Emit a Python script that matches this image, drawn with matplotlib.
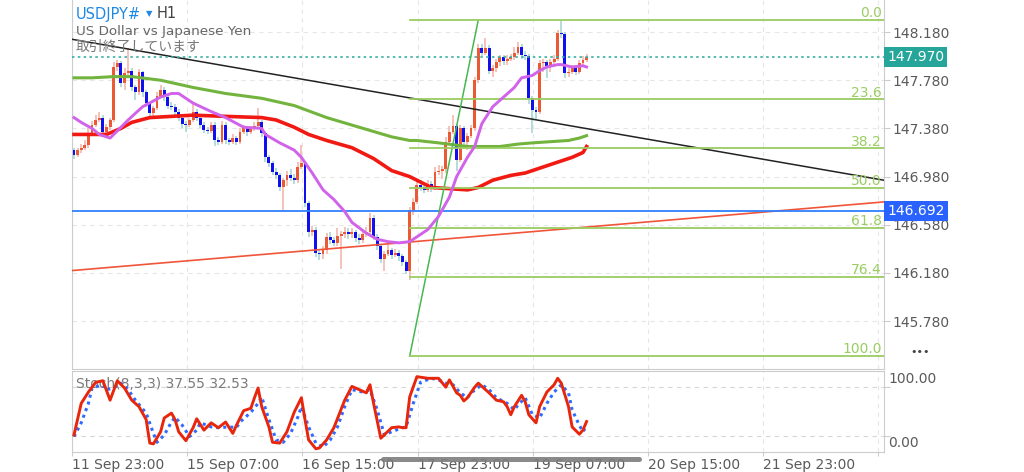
import numpy as np
import matplotlib.pyplot as plt
from matplotlib.lines import Line2D
from matplotlib.transforms import blended_transform_factory

plt.rcParams['font.family'] = ['DejaVu Sans', 'Noto Sans CJK JP']

# ---- hourly candles (USDJPY, H1) ----
first_open = 147.20
closes = [147.16, 147.20, 147.22, 147.24, 147.34, 147.41, 147.45, 147.47, 147.35, 147.39,
          147.45, 147.89, 147.92, 147.76, 147.84, 147.86, 147.72, 147.68, 147.85, 147.68,
          147.59, 147.51, 147.55, 147.65, 147.70, 147.64, 147.57, 147.56, 147.52, 147.47,
          147.42, 147.41, 147.45, 147.52, 147.47, 147.41, 147.37, 147.36, 147.41, 147.28,
          147.27, 147.41, 147.28, 147.27, 147.30, 147.27, 147.35, 147.38, 147.35, 147.38,
          147.40, 147.43, 147.34, 147.14, 147.09, 147.02, 146.99, 146.89, 146.95, 146.99,
          146.97, 146.95, 147.06, 147.09, 146.76, 146.52, 146.54, 146.35, 146.34, 146.37,
          146.48, 146.45, 146.43, 146.49, 146.50, 146.52, 146.50, 146.52, 146.47, 146.45,
          146.50, 146.52, 146.64, 146.48, 146.40, 146.30, 146.34, 146.37, 146.33, 146.35,
          146.32, 146.27, 146.20, 146.70, 146.77, 146.91, 146.89, 146.87, 146.92, 146.89,
          147.02, 147.03, 147.04, 147.27, 147.35, 147.40, 147.12, 147.38, 147.27, 147.32,
          147.38, 147.78, 148.05, 148.01, 148.05, 147.86, 147.88, 147.93, 147.97, 147.94,
          147.96, 147.97, 148.01, 148.06, 147.99, 147.98, 147.63, 147.53, 147.52, 147.92,
          147.93, 147.90, 147.93, 147.96, 148.17, 148.16, 147.84, 147.85, 147.88, 147.85,
          147.92, 147.95, 147.97]
highs = [147.22, 147.22, 147.25, 147.28, 147.38, 147.44, 147.49, 147.52, 147.49, 147.42,
         147.47, 147.93, 147.95, 147.94, 147.88, 148.05, 147.88, 147.74, 147.87, 147.86,
         147.70, 147.60, 147.57, 147.68, 147.74, 147.72, 147.66, 147.60, 147.58, 147.54,
         147.49, 147.44, 147.47, 147.60, 147.54, 147.49, 147.43, 147.39, 147.43, 147.43,
         147.31, 147.44, 147.43, 147.30, 147.33, 147.32, 147.38, 147.41, 147.40, 147.40,
         147.43, 147.55, 147.45, 147.36, 147.16, 147.11, 147.05, 147.01, 146.97, 147.03,
         147.04, 147.00, 147.10, 147.24, 147.11, 146.78, 146.57, 146.56, 146.38, 146.40,
         146.51, 146.52, 146.48, 146.55, 146.53, 146.56, 146.55, 146.55, 146.54, 146.50,
         146.53, 146.56, 146.68, 146.66, 146.50, 146.42, 146.36, 146.43, 146.39, 146.38,
         146.37, 146.34, 146.29, 146.73, 146.80, 146.94, 146.95, 146.92, 146.95, 146.94,
         147.06, 147.08, 147.07, 147.31, 147.40, 147.49, 147.42, 147.41, 147.40, 147.34,
         147.41, 147.81, 148.08, 148.08, 148.13, 148.07, 147.91, 147.96, 147.99, 147.99,
         147.99, 148.00, 148.06, 148.10, 148.08, 148.02, 148.00, 147.65, 147.56, 147.95,
         147.96, 147.95, 147.96, 147.99, 148.20, 148.28, 148.18, 147.88, 147.91, 147.90,
         147.95, 147.98, 148.00]
lows = [147.13, 147.14, 147.18, 147.20, 147.22, 147.32, 147.39, 147.43, 147.31, 147.32,
        147.37, 147.43, 147.86, 147.72, 147.70, 147.80, 147.69, 147.62, 147.66, 147.64,
        147.56, 147.48, 147.46, 147.53, 147.63, 147.61, 147.54, 147.53, 147.49, 147.44,
        147.38, 147.35, 147.39, 147.43, 147.44, 147.38, 147.34, 147.33, 147.34, 147.23,
        147.24, 147.25, 147.25, 147.24, 147.25, 147.24, 147.25, 147.33, 147.32, 147.33,
        147.36, 147.38, 147.31, 147.10, 147.06, 146.99, 146.96, 146.86, 146.70, 146.90,
        146.94, 146.92, 146.93, 147.04, 146.73, 146.48, 146.49, 146.31, 146.29, 146.30,
        146.34, 146.42, 146.40, 146.40, 146.21, 146.47, 146.46, 146.47, 146.44, 146.42,
        146.43, 146.48, 146.50, 146.45, 146.37, 146.26, 146.20, 146.32, 146.30, 146.31,
        146.28, 146.24, 146.17, 146.12, 146.66, 146.75, 146.86, 146.84, 146.85, 146.85,
        146.87, 146.99, 146.96, 147.01, 147.25, 147.33, 147.03, 147.10, 147.24, 147.20,
        147.30, 147.36, 147.76, 147.98, 147.99, 147.83, 147.81, 147.85, 147.90, 147.91,
        147.91, 147.94, 147.95, 147.99, 147.96, 147.95, 147.58, 147.34, 147.45, 147.50,
        147.85, 147.80, 147.85, 147.91, 147.94, 148.13, 147.80, 147.81, 147.83, 147.82,
        147.83, 147.90, 147.93]
opens = [first_open] + closes[:-1]

# ---- moving averages (read at sample bars) ----
ma_fast_bar = [0, 2, 5, 7, 10, 15, 19, 24, 27, 29, 33, 38, 42, 47, 52, 53, 57, 61, 63, 66,
               69, 72, 75, 77, 81, 84, 87, 90, 93, 98, 101, 104, 106, 109, 111, 113, 116,
               119, 122, 124, 127, 129, 131, 134, 135, 138, 141, 142]
ma_fast = [147.47, 147.43, 147.38, 147.33, 147.30, 147.45, 147.56, 147.64, 147.67, 147.67,
           147.59, 147.52, 147.47, 147.39, 147.38, 147.33, 147.26, 147.20, 147.14, 147.01,
           146.87, 146.79, 146.69, 146.60, 146.51, 146.46, 146.44, 146.43, 146.44, 146.54,
           146.65, 146.81, 146.98, 147.14, 147.23, 147.42, 147.56, 147.64, 147.72, 147.80,
           147.82, 147.86, 147.89, 147.91, 147.91, 147.89, 147.90, 147.89]
ma_mid_bar = [0, 5, 9, 13, 16, 21, 27, 33, 42, 52, 56, 61, 65, 70, 77, 83, 88, 93, 95, 99,
              104, 109, 112, 116, 121, 125, 129, 134, 138, 141, 142]
ma_mid = [147.33, 147.33, 147.33, 147.38, 147.43, 147.47, 147.48, 147.49, 147.48, 147.47,
          147.45, 147.39, 147.33, 147.28, 147.22, 147.13, 147.03, 146.98, 146.95, 146.89,
          146.88, 146.87, 146.89, 146.95, 146.99, 147.01, 147.05, 147.10, 147.14, 147.18,
          147.23]
ma_slow_bar = [0, 5, 11, 16, 24, 33, 42, 52, 61, 70, 79, 88, 93, 95, 101, 109, 113, 118,
               123, 127, 132, 137, 140, 142]
ma_slow = [147.80, 147.80, 147.81, 147.81, 147.78, 147.72, 147.67, 147.63, 147.57, 147.47,
           147.39, 147.31, 147.28, 147.28, 147.26, 147.23, 147.23, 147.23, 147.25, 147.26,
           147.27, 147.28, 147.30, 147.32]

# ---- drawing objects ----
fib_low, fib_high = 145.49, 148.28
fib_low_bar, fib_high_bar = 93, 112
fib_levels = [0.0, 23.6, 38.2, 50.0, 61.8, 76.4, 100.0]
black_trend_bar = [-0.55, 224.4]
black_trend = [148.12, 146.95]
red_trend_bar = [-0.55, 224.4]
red_trend = [146.20, 146.77]
last_price = 147.970
hline_price = 146.692

# ---- stochastic (8,3,3) ----
stoch_k_bar = [0, 2, 4, 6, 8, 10, 12, 14, 16, 18, 20, 21, 22, 24, 25, 27, 28, 29, 31, 33,
               34, 36, 38, 40, 42, 44, 45, 47, 49, 50, 51, 52, 54, 55, 57, 59, 61, 63, 64,
               65, 67, 68, 70, 72, 75, 77, 78, 81, 82, 83, 85, 88, 90, 91, 92, 93, 95, 98,
               101, 103, 104, 106, 107, 108, 109, 111, 112, 113, 115, 117, 119, 120, 121,
               122, 124, 125, 126, 128, 129, 131, 133, 134, 135, 137, 138, 140, 141, 142]
stoch_k = [21, 60, 74, 86, 88, 64, 88, 79, 64, 56, 40, 11, 10, 25, 42, 48, 40, 25, 14, 30,
           41, 27, 36, 30, 37, 23, 33, 51, 54, 67, 79, 56, 31, 12, 11, 25, 49, 67, 40,
           15, 4, 5, 15, 30, 64, 81, 79, 73, 83, 60, 17, 30, 31, 30, 30, 68, 93, 91,
           91, 80, 89, 73, 70, 63, 67, 80, 85, 81, 73, 64, 62, 56, 46,
           56, 70, 62, 46, 36, 56, 74, 83, 91, 85, 56, 31, 22, 27, 37.55]
stoch_d_bar = [0, 2, 4, 5, 8, 9, 11, 13, 15, 17, 20, 22, 23, 25, 27, 28, 30, 32, 34, 35,
               38, 40, 43, 45, 46, 49, 51, 52, 54, 56, 58, 60, 62, 63, 65, 67, 69, 71, 73,
               75, 77, 80, 82, 84, 86, 88, 91, 92, 94, 96, 99, 101, 103, 105, 107, 109,
               110, 113, 115, 117, 120, 122, 123, 125, 127, 129, 131, 133, 135, 137, 138,
               140, 141, 142]
stoch_d = [19, 36, 60, 79, 83, 77, 79, 85, 77, 64, 48, 23, 12, 21, 37, 43, 33, 19, 27, 36,
           31, 30, 31, 30, 37, 49, 60, 68, 40, 15, 12, 23, 43, 56, 31, 11, 6, 15, 31,
           56, 77, 74, 77, 52, 21, 25, 30, 31, 60, 86, 91, 89, 85, 83, 73, 67,
           73, 83, 77, 67, 60, 52, 58, 67, 46, 42, 60, 74, 83, 73, 52,
           33, 25, 32.53]

time_labels = ['11 Sep 23:00', '15 Sep 07:00', '16 Sep 15:00', '17 Sep 23:00',
               '19 Sep 07:00', '20 Sep 15:00', '21 Sep 23:00', '']
price_ticks = [145.78, 146.18, 146.58, 146.98, 147.38, 147.78, 148.18]

W, H = 1024, 472
def fx(px):
    return px / W
def fy(py):
    return 1 - py / H

fig = plt.figure(figsize=(W / 100, H / 100), dpi=100)
ax = fig.add_axes([fx(72), fy(369), fx(812), 369 / H])
ax2 = fig.add_axes([fx(72), fy(452), fx(812), 81 / H], sharex=ax)

xmin, xmax = -0.55, 224.4
tick_pos = [-0.5 + 31.9 * k for k in range(8)]
grid_col = '#e6e6e6'
spine_col = '#cccccc'

# candles
o = np.array(opens); c = np.array(closes)
h = np.array(highs); l = np.array(lows)
idx = np.arange(len(c))
up = c >= o
ax.vlines(idx[up], l[up], h[up], color='#f4b2a5', lw=1.1, zorder=2)
ax.vlines(idx[~up], l[~up], h[~up], color='#9fd4d0', lw=1.1, zorder=2)
body_lo = np.minimum(o, c)
body_h = np.maximum(np.abs(c - o), 0.01)
ax.bar(idx[up], body_h[up], bottom=body_lo[up], width=0.8, color='#ea5a34', zorder=3)
ax.bar(idx[~up], body_h[~up], bottom=body_lo[~up], width=0.8, color='#1010ee', zorder=3)

# moving averages
ax.plot(ma_slow_bar, ma_slow, color='#72b43e', lw=2.2, zorder=4)
ax.plot(ma_mid_bar, ma_mid, color='#f01a12', lw=2.6, zorder=4)
ax.plot(ma_fast_bar, ma_fast, color='#d163ea', lw=2.1, zorder=5)

# trend lines and levels
ax.plot(black_trend_bar, black_trend, color='#222222', lw=1.1, zorder=4)
ax.plot(red_trend_bar, red_trend, color='#f0553a', lw=1.2, zorder=4)
ax.axhline(hline_price, color='#2f80ff', lw=1.3, zorder=4)
ax.axhline(last_price, color='#3aafa4', lw=1.2, ls=(0, (1.5, 2)), zorder=4)

# fibonacci retracement
ax.plot([fib_low_bar, fib_high_bar], [fib_low, fib_high], color='#45b851', lw=1.1, zorder=4)
tr = blended_transform_factory(ax.transAxes, ax.transData)
for lv in fib_levels:
    p = fib_high - (fib_high - fib_low) * lv / 100
    ax.plot([fib_low_bar, xmax], [p, p], color='#9acd62', lw=1.3, zorder=4)
    ax.text(0.997, p + 0.022, f'{lv:.1f}', transform=tr, ha='right', va='baseline',
            color='#9acd62', fontsize=10, zorder=6)

# price badges
ax.text(1.004, last_price, f'{last_price:.3f}', transform=tr, ha='left', va='center',
        color='white', fontsize=10, clip_on=False,
        bbox=dict(boxstyle='square,pad=0.22', fc='#26a69a', ec='none'))
ax.text(1.004, hline_price, f'{hline_price:.3f}', transform=tr, ha='left', va='center',
        color='white', fontsize=10, clip_on=False,
        bbox=dict(boxstyle='square,pad=0.22', fc='#2962ff', ec='none'))

ax.set_xlim(xmin, xmax)
ax.set_ylim(145.383, 148.446)
ax.yaxis.tick_right()
ax.set_yticks(price_ticks)
ax.set_yticklabels([f'{p:.3f}' for p in price_ticks])
ax.tick_params(axis='y', colors=spine_col, labelcolor='#5a5a5a', labelsize=10, length=4, pad=2)
ax.set_xticks(tick_pos)
ax.tick_params(axis='x', length=0, labelbottom=False)
ax.grid(True, ls=(0, (4, 4)), color=grid_col, lw=0.8)
for s in ax.spines.values():
    s.set_color(spine_col)
ax.spines['top'].set_visible(False)

# stochastic panel
ax2.plot(stoch_k_bar, stoch_k, color='#e8260c', lw=2.1, zorder=4)
ax2.plot(stoch_d_bar, stoch_d, color='#2f6bff', lw=2.2, ls=(0, (1, 1.3)), zorder=3)
ax2.set_ylim(0, 100)
ax2.set_yticks([20, 80])
ax2.yaxis.tick_right()
ax2.tick_params(axis='y', colors=spine_col, labelright=False, length=4)
ax2.set_xticks(tick_pos)
ax2.set_xticklabels(time_labels, ha='left')
ax2.tick_params(axis='x', colors=spine_col, labelcolor='#5a5a5a', labelsize=10, length=3, pad=1)
ax2.grid(True, ls=(0, (4, 4)), color=grid_col, lw=0.8)
ax2.yaxis.grid(True, ls=(0, (4, 4)), color='#d6d6d6', lw=0.8)
for s in ax2.spines.values():
    s.set_color(spine_col)
ax2.text(0.005, 0.84, 'Stoch(8,3,3) 37.55 32.53', transform=ax2.transAxes,
         color='#7a7a7a', fontsize=10, va='center', zorder=2)
fig.text(fx(888), fy(379), '100.00', color='#5a5a5a', fontsize=10, va='center')
fig.text(fx(888), fy(443), '0.00', color='#5a5a5a', fontsize=10, va='center')

# header
fig.text(fx(76), fy(14), 'USDJPY#', color='#1e88e5', fontsize=10.5, va='center')
fig.text(fx(146), fy(14), '▼', color='#1e88e5', fontsize=6, va='center')
fig.text(fx(157), fy(14), 'H1', color='#444444', fontsize=10.5, va='center')
fig.text(fx(76), fy(32), 'US Dollar vs Japanese Yen', color='#666666', fontsize=9.7, va='center')
fig.text(fx(76), fy(47), '取引終了しています', color='#777777', fontsize=10, va='center')

fig.text(fx(920), fy(352), '•••', color='#444444', fontsize=8, ha='center', va='center')
fig.add_artist(Line2D([fx(383), fx(639)], [fy(459), fy(459)], lw=3.6, color='#7d7d7d',
                      solid_capstyle='round', alpha=0.9))

fig.savefig('out.png', dpi=100)
